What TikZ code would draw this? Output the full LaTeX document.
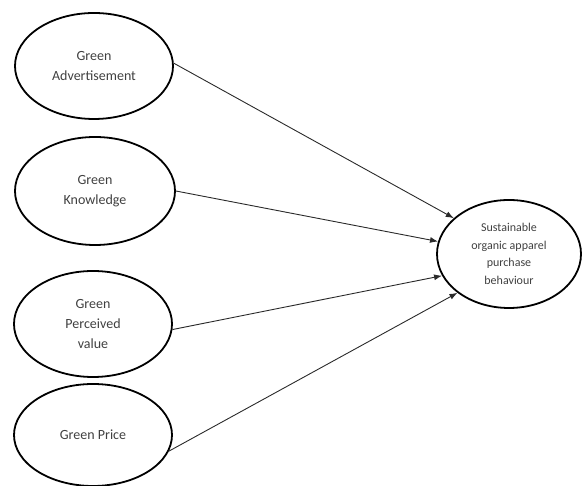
\documentclass[tikz,border=0pt]{standalone}
\usepackage{fontspec}
\setmainfont{Carlito}
\usetikzlibrary{shapes.geometric,arrows.meta}
\definecolor{txtgrey}{HTML}{404040}
\definecolor{linegrey}{HTML}{2A2A2A}
\begin{document}
\begin{tikzpicture}[x=1pt,y=1pt,
  oval/.style={ellipse,draw=black,line width=1.8pt,inner sep=0pt,align=center,text=txtgrey},
  leftoval/.style={oval,minimum width=158pt,minimum height=106pt,font=\fontsize{14}{20}\selectfont},
  link/.style={draw=linegrey,line width=0.9pt,-{Latex[length=8pt,width=6pt]}}]
\useasboundingbox (0,0) rectangle (584,486);
\node[leftoval] (e1) at (94,420) {Green\\Advertisement};
\node[leftoval,minimum width=160pt,minimum height=108pt] (e2) at (95,295) {Green\\Knowledge};
\node[leftoval] (e3) at (93,162) {Green\\Perceived\\value};
\node[leftoval,minimum height=102pt] (e4) at (93,51) {Green Price};
\node[oval,minimum width=144pt,minimum height=108pt,font=\fontsize{12}{17.5}\selectfont] (t) at (509,232) {Sustainable\\organic apparel\\purchase\\behaviour};
\draw[link] (e1.2) -- (t.147);
\draw[link] (e2.0) -- (t.170);
\draw[link] (e3.-4) -- (t.198);
\draw[link] (e4.-12) -- (t.217);
\end{tikzpicture}
\end{document}
